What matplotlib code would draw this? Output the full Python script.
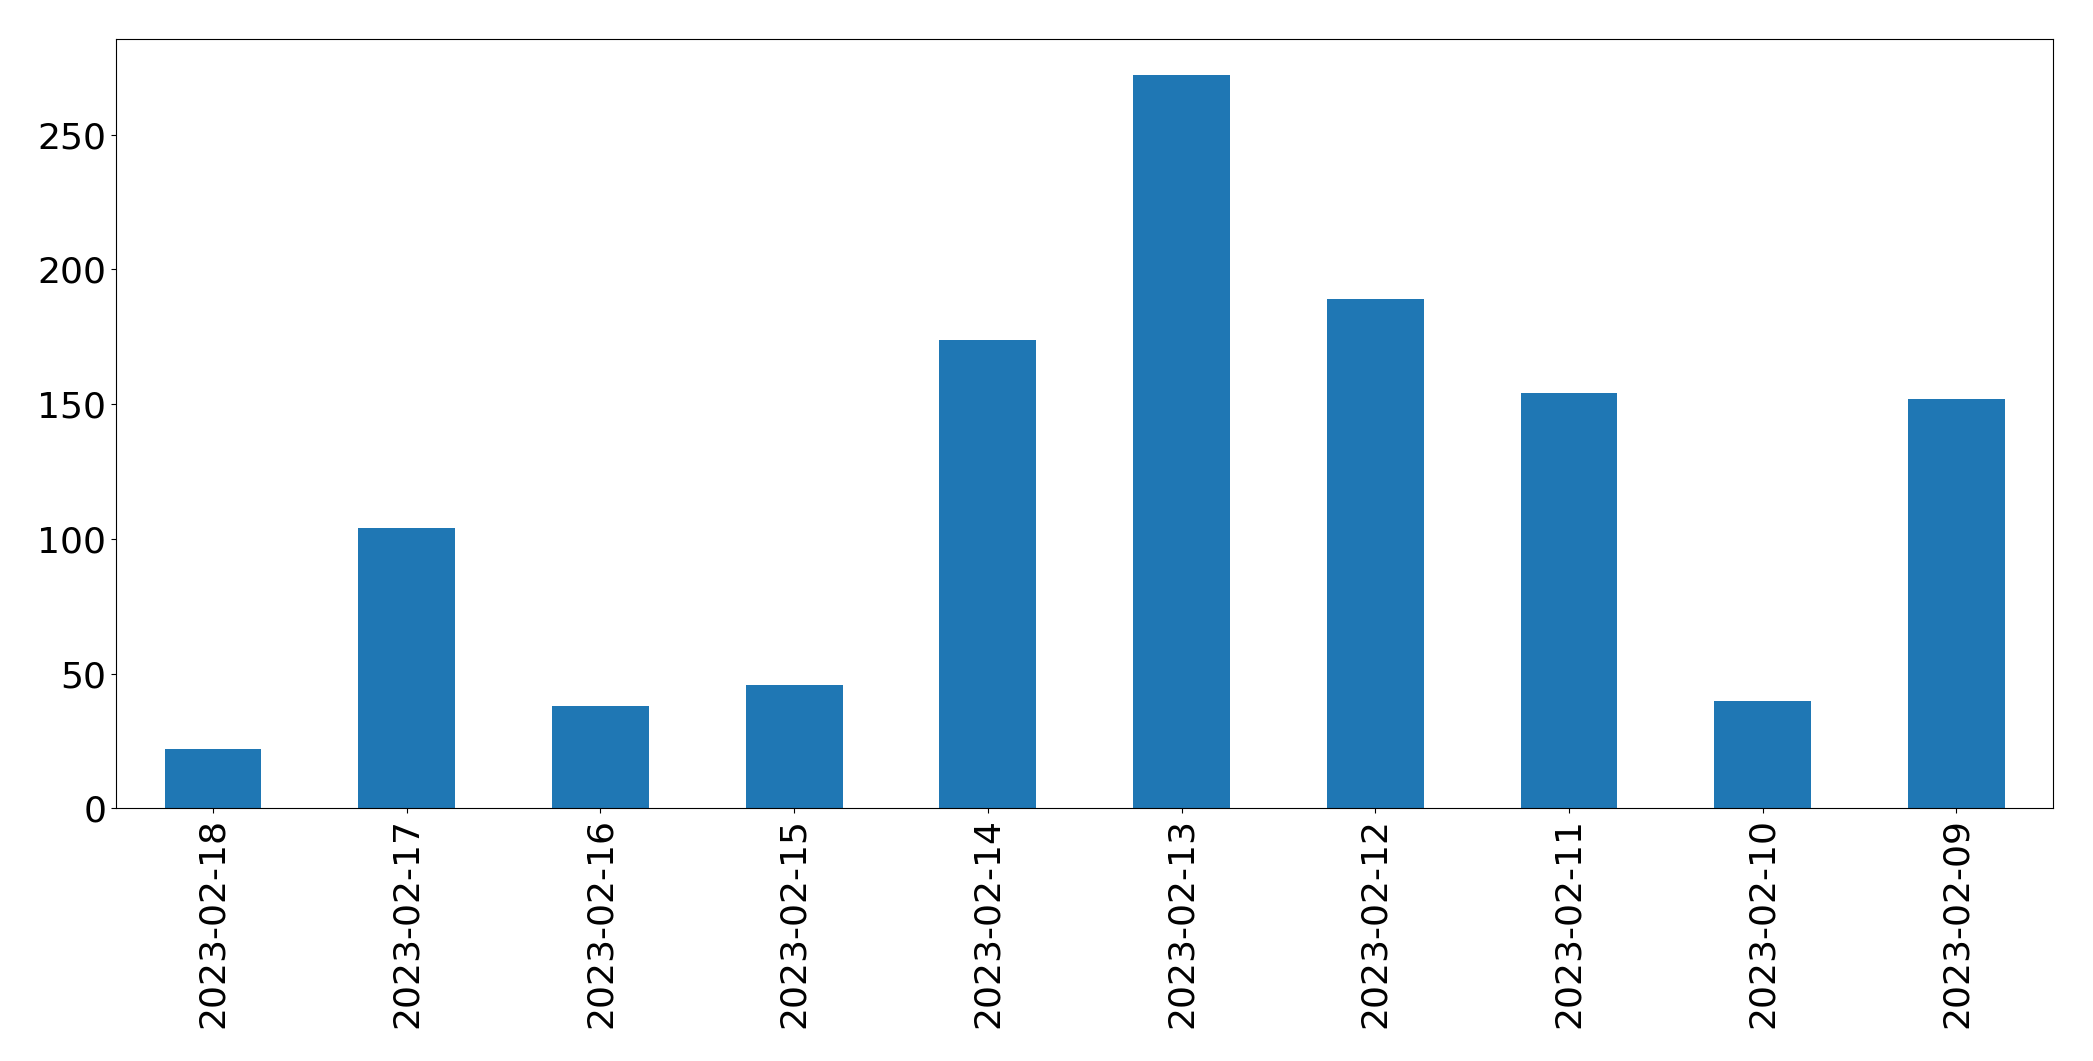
import matplotlib
matplotlib.use("Agg")
from matplotlib import pyplot as plt
import pandas as pd

dates = ['2023-02-18', '2023-02-17', '2023-02-16', '2023-02-15', '2023-02-14',
         '2023-02-13', '2023-02-12', '2023-02-11', '2023-02-10', '2023-02-09']
counts = [22, 104, 38, 46, 174, 272, 189, 154, 40, 152]

series = pd.Series(counts, index=dates)

fig, ax = plt.subplots(figsize=(20.93, 10.61), dpi=100)
series.plot(kind='bar', ax=ax, color='#1f77b4')
ax.tick_params(axis='both', labelsize=26)
fig.subplots_adjust(left=0.0555, right=0.981, top=0.9635, bottom=0.238)
fig.savefig('out.png', dpi=100)
